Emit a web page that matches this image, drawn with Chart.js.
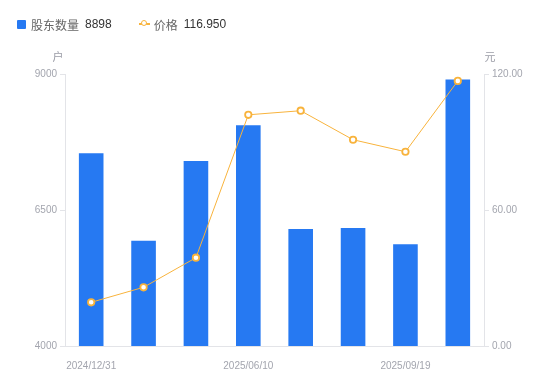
<!DOCTYPE html>
<html>
<head>
<meta charset="utf-8">
<script src="https://cdn.jsdelivr.net/npm/chart.js@4"></script>
<style>
    html, body { margin: 0; padding: 0; background: #fff; }
    #wrap { position: relative; width: 550px; height: 381px; }
    #legend {
        position: absolute; left: 17px; top: 16px; height: 16px;
        display: flex; align-items: center;
        font: 12px "Liberation Sans", "Noto Sans CJK SC", sans-serif;
    }
    .sq { width: 9px; height: 9px; background: #2679f2; border-radius: 1px; margin-right: 5px; }
    .ln { position: relative; width: 11px; height: 1.5px; background: #f8b33c; margin-right: 4px; }
    .ln i { position: absolute; left: 2px; top: -3px; width: 4px; height: 4px; border: 1.5px solid #f8b33c; border-radius: 50%; background: #fff; }
    .lab { color: #666; }
    .val { color: #333; margin-left: 6px; }
</style>
</head>
<body>
<div id="wrap">
    <div id="legend">
        <span class="sq"></span><span class="lab">股东数量</span><span class="val" id="v1"></span>
        <span style="width:27px"></span>
        <span class="ln"><i></i></span><span class="lab">价格</span><span class="val" id="v2"></span>
    </div>
    <canvas id="myChart" width="550" height="381"></canvas>
</div>
<script>
const dates = ['2024/12/31', '2025/03/10', '2025/03/31', '2025/06/10', '2025/06/30', '2025/08/29', '2025/09/19', '2025/09/30'];
const holders = [7542, 5936, 7401, 8057, 6151, 6169, 5869, 8898];
const prices = [19.28, 25.90, 38.96, 102.0, 103.8, 91.0, 85.7, 116.95];

const labelFont = { family: '"Liberation Sans", "Noto Sans CJK SC", sans-serif', size: 10 };
const axisGray = '#a3a5ae';
const lineGray = '#e3e4e8';

document.getElementById('v1').textContent = holders[holders.length - 1];
document.getElementById('v2').textContent = prices[prices.length - 1].toFixed(3);

// unit labels above the two value axes
const unitLabels = {
    id: 'unitLabels',
    afterDraw(chart) {
        const ctx = chart.ctx;
        const area = chart.chartArea;
        ctx.save();
        ctx.font = '11px "Noto Sans CJK SC", sans-serif';
        ctx.fillStyle = '#9a9ca6';
        ctx.textAlign = 'center';
        ctx.textBaseline = 'middle';
        ctx.fillText('户', area.left - 7, area.top - 17);
        ctx.fillText('元', area.right + 6, area.top - 17);
        ctx.restore();
    }
};

const canvas = document.getElementById('myChart');
const config = {
    data: {
        labels: dates,
        datasets: [
            {
                type: 'line',
                label: '价格',
                data: prices,
                yAxisID: 'y1',
                borderColor: '#f8b33c',
                borderWidth: 1,
                pointRadius: 3.2,
                pointBorderWidth: 1.8,
                pointBackgroundColor: '#fff',
                pointBorderColor: '#f8b33c',
                tension: 0,
                order: 0
            },
            {
                type: 'bar',
                label: '股东数量',
                data: holders,
                yAxisID: 'y',
                backgroundColor: '#2679f2',
                barPercentage: 0.47,
                categoryPercentage: 1,
                order: 1
            }
        ]
    },
    options: {
        responsive: false,
        animation: false,
        layout: { padding: { top: 74, left: 0, right: 0, bottom: 0 } },
        plugins: {
            legend: { display: false },
            tooltip: { enabled: false }
        },
        scales: {
            x: {
                offset: true,
                grid: { display: false },
                border: { color: lineGray },
                ticks: {
                    autoSkip: false,
                    maxRotation: 0,
                    color: axisGray,
                    font: labelFont,
                    padding: 6,
                    callback: function(value, index) {
                        return index % 3 === 0 ? dates[index] : '';
                    }
                },
                afterFit(scale) { scale.height = 35; }
            },
            y: {
                position: 'left',
                min: 4000,
                max: 9000,
                grid: { drawOnChartArea: false, tickLength: 5, color: lineGray },
                border: { color: lineGray },
                ticks: {
                    stepSize: 2500, color: axisGray, font: labelFont, padding: 3,
                    callback: v => String(v)
                },
                afterFit(scale) { scale.width = 65; }
            },
            y1: {
                position: 'right',
                min: 0,
                max: 120,
                grid: { drawOnChartArea: false, tickLength: 5, color: lineGray },
                border: { color: lineGray },
                ticks: {
                    stepSize: 60, color: axisGray, font: labelFont, padding: 3,
                    callback: v => v.toFixed(2)
                },
                afterFit(scale) { scale.width = 66; }
            }
        }
    },
    plugins: [unitLabels]
};
const myChart = new Chart(canvas, config);
</script>
</body>
</html>
